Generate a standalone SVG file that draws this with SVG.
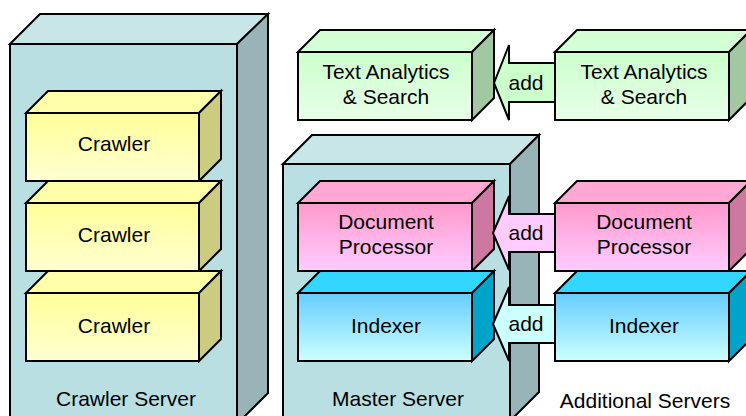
<svg xmlns="http://www.w3.org/2000/svg" width="746" height="416" viewBox="0 0 746 416">
<defs>
<linearGradient id="gY" x1="0" y1="0" x2="0" y2="1"><stop offset="0" stop-color="#ffff99"/><stop offset="1" stop-color="#ffffd2"/></linearGradient>
<linearGradient id="gG" x1="0" y1="0" x2="0" y2="1"><stop offset="0" stop-color="#ccffcc"/><stop offset="1" stop-color="#e8ffe8"/></linearGradient>
<linearGradient id="gP" x1="0" y1="0" x2="0" y2="1"><stop offset="0" stop-color="#ff99cc"/><stop offset="1" stop-color="#ffccff"/></linearGradient>
<linearGradient id="gB" x1="0" y1="0" x2="0" y2="1"><stop offset="0" stop-color="#66ccff"/><stop offset="1" stop-color="#ccffff"/></linearGradient>
</defs>
<style>
.e{stroke:#000;stroke-width:2;stroke-linejoin:miter}
.sF{fill:#b9dfe2}.sT{fill:#c8e6e8}.sS{fill:#98b4b8}
.yF{fill:url(#gY)}.yT{fill:#ffffaa}.yS{fill:#cccc80}
.gF{fill:url(#gG)}.gT{fill:#d4ffd4}.gS{fill:#a2c8a2}
.pF{fill:url(#gP)}.pT{fill:#ffa8d4}.pS{fill:#cc78a0}
.bF{fill:url(#gB)}.bT{fill:#33d6ff}.bS{fill:#00a4c8}
text{font-family:"Liberation Sans",Arial,sans-serif;font-size:21px;fill:#000;text-anchor:middle}
</style>

<g id="crawler-server">
<polygon class="e sT" points="10,44 40,14 268,14 237,44"/>
<polygon class="e sS" points="237,44 268,14 268,393 237,424"/>
<rect class="e sF" x="10" y="44" width="227" height="380"/>
<text x="126" y="406">Crawler Server</text>
</g>

<g id="crawler-1">
<polygon class="e yT" points="26,113 48,91 221,91 199,113"/>
<polygon class="e yS" points="199,113 221,91 221,159 199,181"/>
<rect class="e yF" x="26" y="113" width="173" height="68"/>
<text x="114" y="151">Crawler</text>
</g>
<g id="crawler-2">
<polygon class="e yT" points="26,203 48,181 221,181 199,203"/>
<polygon class="e yS" points="199,203 221,181 221,249 199,271"/>
<rect class="e yF" x="26" y="203" width="173" height="68"/>
<text x="114" y="242">Crawler</text>
</g>
<g id="crawler-3">
<polygon class="e yT" points="26,293 48,271 221,271 199,293"/>
<polygon class="e yS" points="199,293 221,271 221,339 199,361"/>
<rect class="e yF" x="26" y="293" width="173" height="68"/>
<text x="114" y="333">Crawler</text>
</g>

<g id="master-server">
<polygon class="e sT" points="283,164 312,135 539,135 510,164"/>
<polygon class="e sS" points="510,164 539,135 539,392 510,421"/>
<rect class="e sF" x="283" y="164" width="227" height="260"/>
<text x="398" y="406">Master Server</text>
</g>

<g id="text-analytics-master">
<polygon class="e gT" points="298,52 320,30 494,30 472,52"/>
<polygon class="e gS" points="472,52 494,30 494,98 472,120"/>
<rect class="e gF" x="298" y="52" width="174" height="68"/>
<text x="386" y="79">Text Analytics</text>
<text x="386" y="104">&amp; Search</text>
</g>
<g id="doc-processor-master">
<polygon class="e pT" points="298,203 320,181 494,181 472,203"/>
<polygon class="e pS" points="472,203 494,181 494,249 472,271"/>
<rect class="e pF" x="298" y="203" width="174" height="68"/>
<text x="386" y="229">Document</text>
<text x="386" y="254">Processor</text>
</g>
<g id="indexer-master">
<polygon class="e bT" points="298,293 320,271 494,271 472,293"/>
<polygon class="e bS" points="472,293 494,271 494,339 472,361"/>
<rect class="e bF" x="298" y="293" width="174" height="68"/>
<text x="386" y="333">Indexer</text>
</g>

<g id="connectors">
<polygon class="e" fill="#ccffcc" points="494,83 509,45 509,63 556,63 556,102 509,102 509,120"/>
<text x="526" y="90">add</text>
<polygon class="e" fill="#ffccff" points="493,233 509,196 509,214 556,214 556,252 509,252 509,270"/>
<text x="526" y="240">add</text>
<polygon class="e" fill="#ccffff" points="493,324 509,287 509,305 556,305 556,343 509,343 509,361"/>
<text x="526" y="331">add</text>
</g>

<g id="text-analytics-additional">
<polygon class="e gT" points="555,52 577,30 751,30 729,52"/>
<polygon class="e gS" points="729,52 751,30 751,98 729,120"/>
<rect class="e gF" x="555" y="52" width="174" height="68"/>
<text x="644" y="79">Text Analytics</text>
<text x="644" y="104">&amp; Search</text>
</g>
<g id="doc-processor-additional">
<polygon class="e pT" points="555,203 577,181 751,181 729,203"/>
<polygon class="e pS" points="729,203 751,181 751,249 729,271"/>
<rect class="e pF" x="555" y="203" width="174" height="68"/>
<text x="644" y="229">Document</text>
<text x="644" y="254">Processor</text>
</g>
<g id="indexer-additional">
<polygon class="e bT" points="555,293 577,271 751,271 729,293"/>
<polygon class="e bS" points="729,293 751,271 751,339 729,361"/>
<rect class="e bF" x="555" y="293" width="174" height="68"/>
<text x="644" y="333">Indexer</text>
</g>

<text id="additional-servers-label" x="645" y="408">Additional Servers</text>
</svg>
